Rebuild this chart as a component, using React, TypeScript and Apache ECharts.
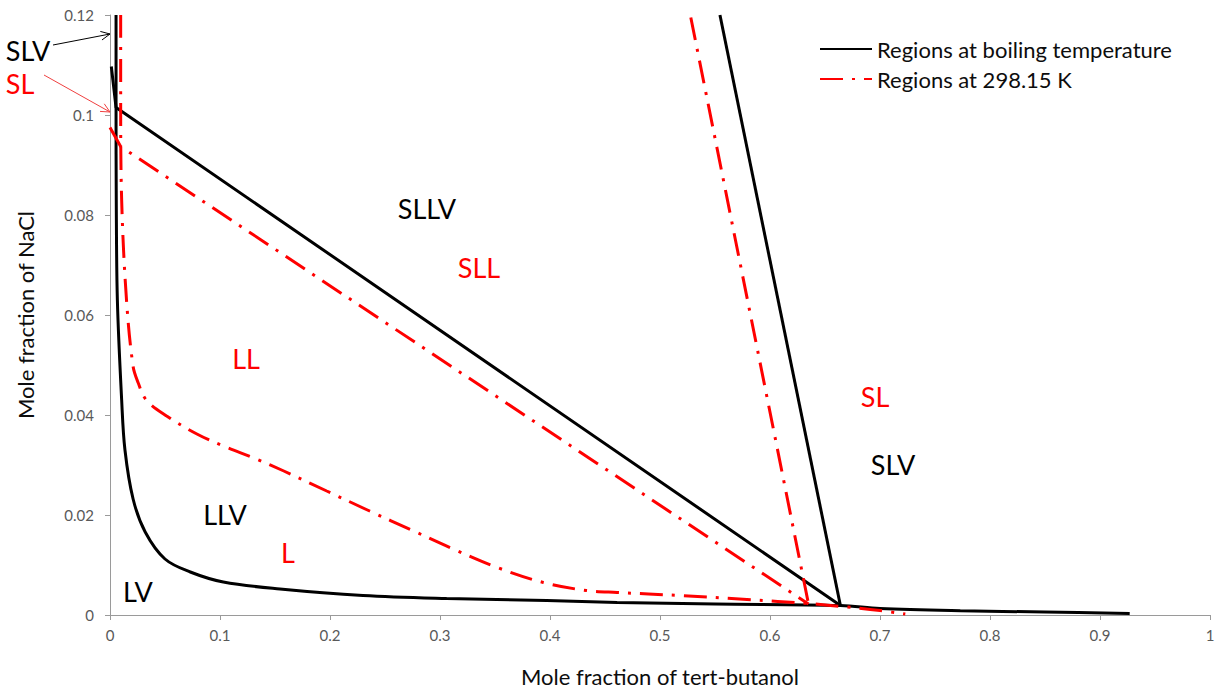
import React, { useEffect, useRef } from "react";
import * as echarts from "echarts";

const BLACK_NAME = "Regions at boiling temperature";
const RED_NAME = "Regions at 298.15 K";

const xTicks = { min: 0, max: 1, interval: 0.1 };
const yTicks = { min: 0, max: 0.12, interval: 0.02 };

// Black (boiling temperature) boundaries
const blackLV: [number, number][] = [
  [0.0055, 0.12], [0.0055, 0.1015], [0.0057, 0.083], [0.0067, 0.063], [0.0106, 0.043],
  [0.0136, 0.033], [0.021, 0.0232], [0.032, 0.0166], [0.05, 0.0112], [0.073, 0.0086],
  [0.103, 0.0066], [0.1545, 0.0052], [0.23, 0.0039], [0.306, 0.0033], [0.397, 0.0029],
  [0.461, 0.0025], [0.55, 0.0022], [0.664, 0.0019], [0.7, 0.0013], [0.773, 0.00085],
  [0.85, 0.0006], [0.927, 0.0003],
];
const blackSLLV: [number, number][] = [[0.0012, 0.1097], [0.0055, 0.1015], [0.664, 0.0019]];
const blackSLV: [number, number][] = [[0.5545, 0.12], [0.664, 0.0019]];

// Red (298.15 K) boundaries
const redLL: [number, number][] = [
  [0.0097, 0.12], [0.0097, 0.103], [0.0106, 0.083], [0.015, 0.063], [0.021, 0.0497],
  [0.0255, 0.0465], [0.033, 0.043], [0.0515, 0.0398], [0.079, 0.0362], [0.103, 0.0338],
  [0.133, 0.0312], [0.158, 0.0288], [0.197, 0.0248], [0.236, 0.0208], [0.274, 0.017],
  [0.312, 0.0132], [0.352, 0.0095], [0.394, 0.0065], [0.433, 0.0049], [0.461, 0.0045],
  [0.518, 0.0039], [0.579, 0.0031], [0.635, 0.0023], [0.67, 0.0016], [0.7, 0.0009],
  [0.723, 0.0002],
];
const redSLL: [number, number][] = [[0, 0.0975], [0.0097, 0.0937], [0.635, 0.0022]];
const redSL: [number, number][] = [[0.528, 0.1195], [0.635, 0.0022]];

// Region labels: [text, colour key, x px, y px]
const regionLabels: [string, string, number, number][] = [
  ["SLV", "k", 28, 50],
  ["SL", "r", 20, 83],
  ["SLLV", "k", 427, 208],
  ["SLL", "r", 479, 267],
  ["LL", "r", 246, 358],
  ["SL", "r", 875, 396],
  ["SLV", "k", 893, 464],
  ["LLV", "k", 225, 514],
  ["L", "r", 288, 552],
  ["LV", "k", 138, 591],
];

const RED = "#ff0000";
const FONT = "Lato";
const dashDot = [23, 9, 3, 9];

export default function App() {
  const ref = useRef<HTMLDivElement>(null);
  useEffect(() => {
    if (!ref.current) return;
    const chart = echarts.init(ref.current, undefined, { renderer: "svg" });
    const blackStyle = { color: "#000", width: 3, type: "solid" as const };
    const redStyle = { color: RED, width: 3, type: dashDot, cap: "butt" as const };
    const mk = (name: string, data: [number, number][], style: any, smooth: number | boolean = false) => ({
      type: "line",
      name,
      data,
      showSymbol: false,
      symbol: "none",
      smooth,
      color: style.color,
      lineStyle: style,
      emphasis: { disabled: true },
      z: 3,
    });
    const arrow = (x1: number, y1: number, x2: number, y2: number, color: string) => {
      const ang = Math.atan2(y2 - y1, x2 - x1);
      const L = 10;
      const a1 = ang + Math.PI - 0.45;
      const a2 = ang + Math.PI + 0.45;
      return [
        { type: "line", shape: { x1, y1, x2, y2 }, style: { stroke: color, lineWidth: 1 }, z: 10 },
        {
          type: "polyline",
          shape: {
            points: [
              [x2 + L * Math.cos(a1), y2 + L * Math.sin(a1)],
              [x2, y2],
              [x2 + L * Math.cos(a2), y2 + L * Math.sin(a2)],
            ],
          },
          style: { stroke: color, lineWidth: 1, fill: null },
          z: 10,
        },
      ];
    };
    chart.setOption({
      animation: false,
      backgroundColor: "#fff",
      grid: { left: 110, right: 15, top: 15, bottom: 76, containLabel: false },
      legend: {
        data: [BLACK_NAME, RED_NAME],
        orient: "vertical",
        left: 814,
        top: 32,
        itemWidth: 52,
        itemHeight: 14,
        itemGap: 6,
        itemStyle: { opacity: 0 },
        textStyle: { fontFamily: FONT, fontSize: 22, color: "#0d0d0d", lineHeight: 24 },
        selectedMode: false,
      },
      xAxis: {
        type: "value",
        ...xTicks,
        name: "Mole fraction of tert-butanol",
        nameLocation: "middle",
        nameGap: 50,
        nameTextStyle: { fontFamily: FONT, fontSize: 22, color: "#0d0d0d" },
        axisLine: { show: true, lineStyle: { color: "#9a9a9a", width: 1 } },
        axisTick: { show: true, length: 5, lineStyle: { color: "#9a9a9a" } },
        axisLabel: { fontFamily: FONT, fontSize: 15, color: "#595959", margin: 12 },
        splitLine: { show: false },
      },
      yAxis: {
        type: "value",
        ...yTicks,
        name: "Mole fraction of NaCl",
        nameLocation: "middle",
        nameGap: 74,
        nameRotate: 90,
        nameTextStyle: { fontFamily: FONT, fontSize: 22, color: "#0d0d0d" },
        axisLine: { show: true, lineStyle: { color: "#9a9a9a", width: 1 } },
        axisTick: { show: true, length: 5, lineStyle: { color: "#9a9a9a" } },
        axisLabel: { fontFamily: FONT, fontSize: 15, color: "#595959", margin: 16 },
        splitLine: { show: false },
      },
      series: [
        mk(BLACK_NAME, blackLV, blackStyle, 0.35),
        mk(BLACK_NAME, blackSLLV, blackStyle),
        mk(BLACK_NAME, blackSLV, blackStyle),
        mk(RED_NAME, redLL, redStyle, 0.35),
        mk(RED_NAME, redSLL, redStyle),
        mk(RED_NAME, redSL, redStyle),
      ],
      graphic: [
        ...regionLabels.map(([t, c, x, y]) => ({
          type: "text",
          x,
          y,
          z: 20,
          style: {
            text: t,
            fill: c === "r" ? RED : "#000",
            font: `27px ${FONT}`,
            textAlign: "center",
            textVerticalAlign: "middle",
          },
        })),
        ...arrow(53, 45, 110, 34, "#000"),
        ...arrow(44, 75, 110, 112, "#f04040"),
      ],
    });
    return () => chart.dispose();
  }, []);
  return (
    <div
      ref={ref}
      style={{ position: "fixed", left: 0, top: 0, width: 1225, height: 692, background: "#fff" }}
    />
  );
}
